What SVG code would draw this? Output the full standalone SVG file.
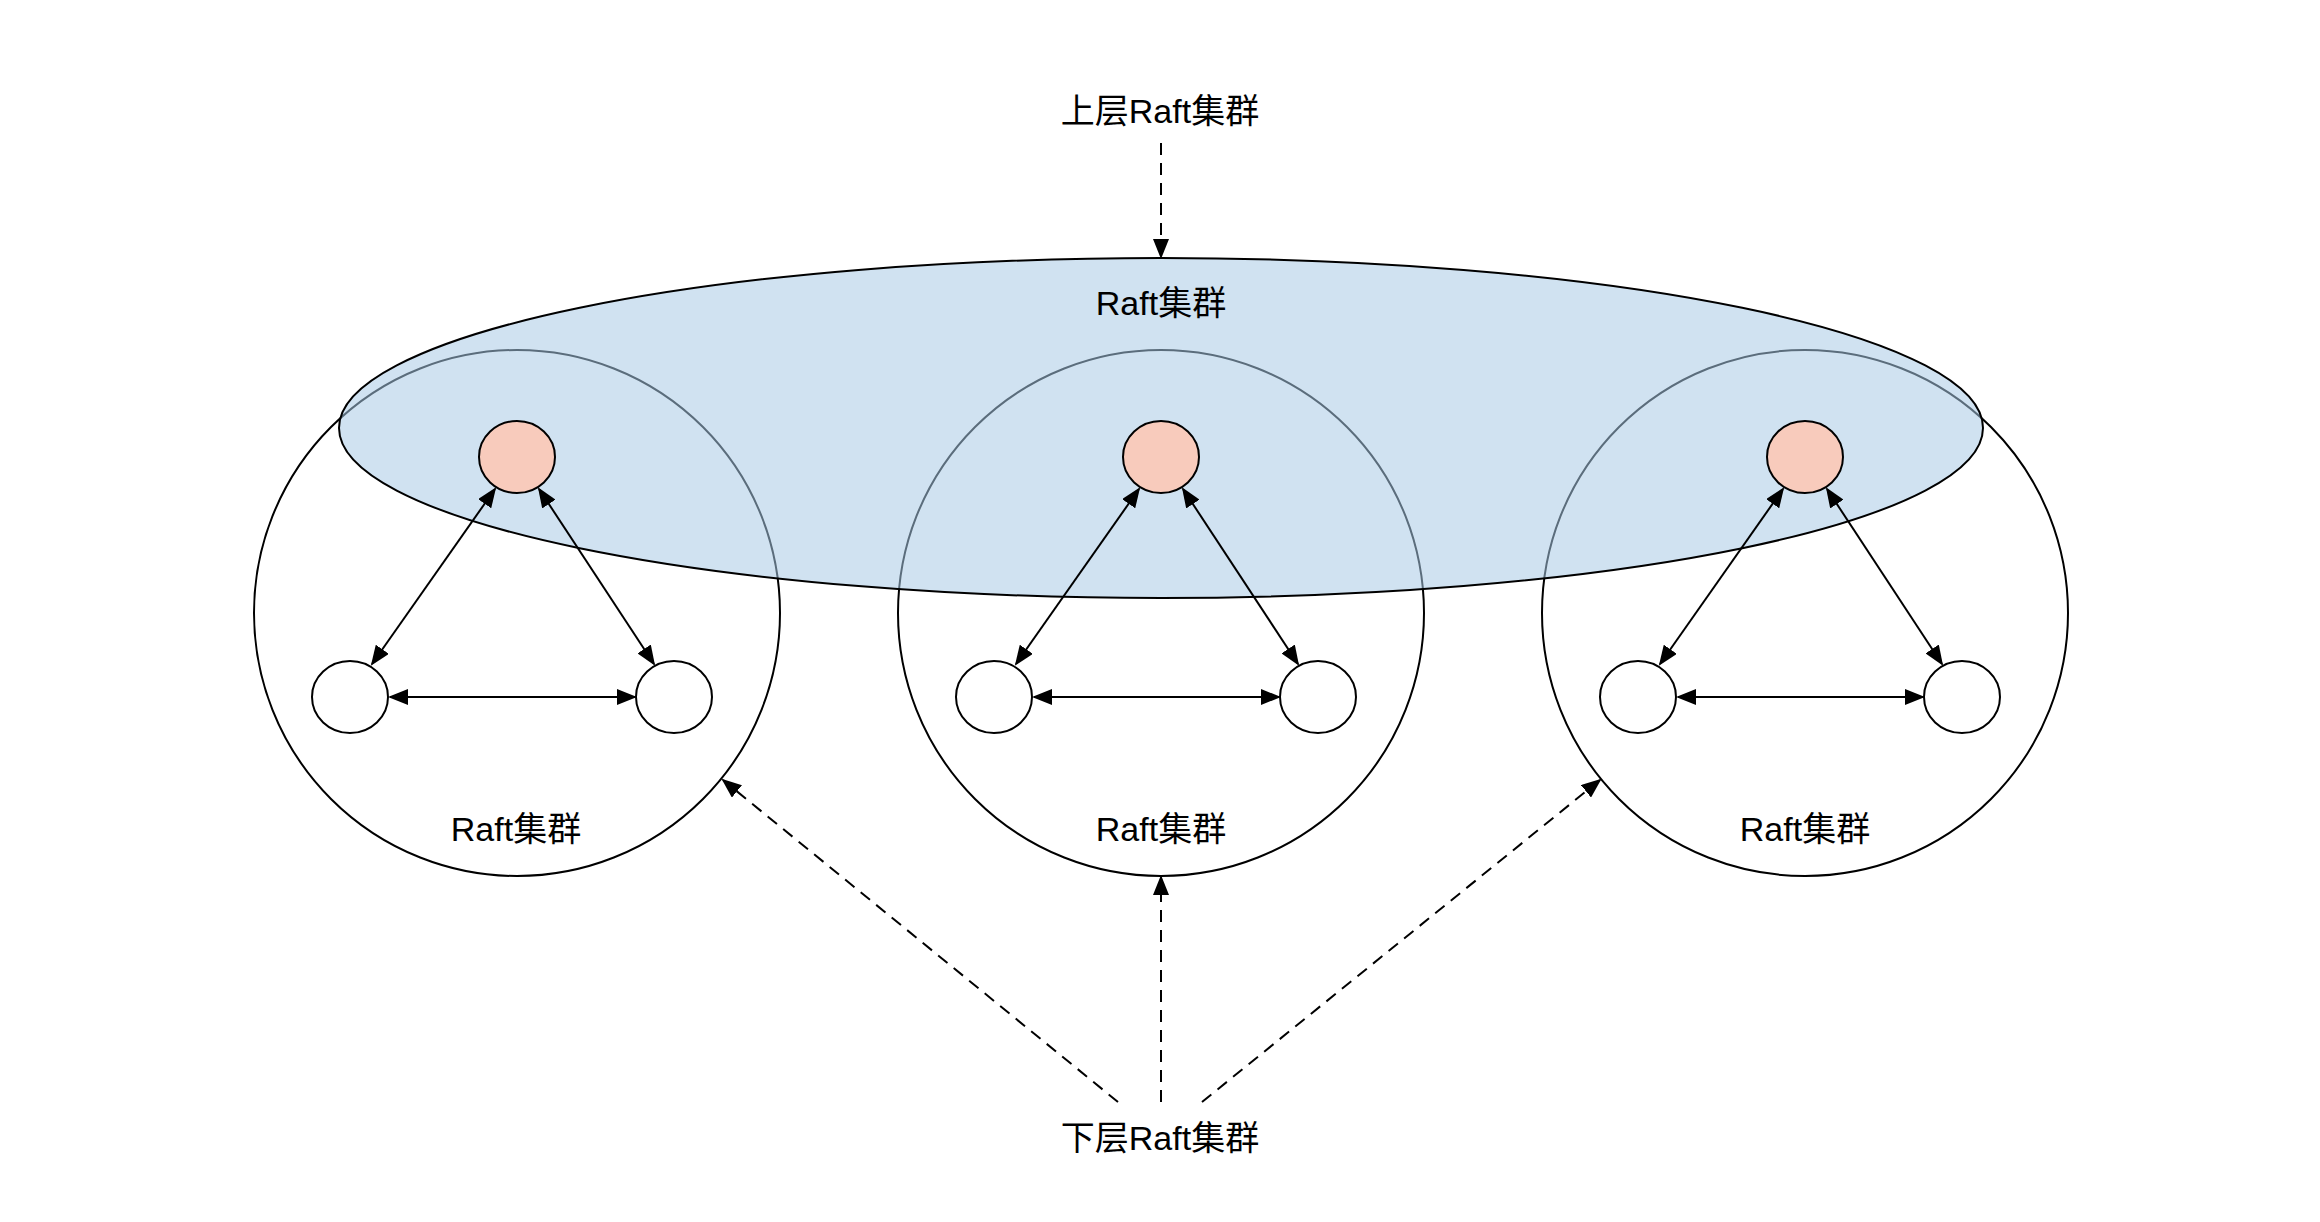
<svg xmlns="http://www.w3.org/2000/svg" width="2320" height="1222" viewBox="0 0 2320 1222">
<style>
.big{fill:#ffffff;stroke:#000;stroke-width:2}
.sm{fill:#ffffff;stroke:#000;stroke-width:2}
.ld{fill:#f8cbbc;stroke:#000;stroke-width:2}
.top{fill:rgb(168,201,229);fill-opacity:0.54;stroke:#000;stroke-width:2}
.lbl{font-family:"Liberation Sans","Noto Sans CJK SC",sans-serif;font-size:34px;fill:#000;text-anchor:middle}
.ar{stroke:#000;stroke-width:2;fill:none;marker-end:url(#head)}
.bi{stroke:#000;stroke-width:2;fill:none;marker-start:url(#head);marker-end:url(#head)}
.da{stroke:#000;stroke-width:2;fill:none;stroke-dasharray:12 8;marker-end:url(#head)}
</style>
<defs>
<marker id="head" markerUnits="userSpaceOnUse" markerWidth="20" markerHeight="16" refX="18" refY="8" orient="auto-start-reverse">
<path d="M0,0 L20,8 L0,16 z" fill="#000"/>
</marker>
</defs>
<rect width="2320" height="1222" fill="#ffffff"/>
<g id="cluster-left"><circle class="big" cx="517" cy="613" r="263"/></g>
<g id="cluster-middle"><circle class="big" cx="1161" cy="613" r="263"/></g>
<g id="cluster-right"><circle class="big" cx="1805" cy="613" r="263"/></g>
<g id="upper-cluster">
<ellipse class="top" cx="1161" cy="428" rx="822" ry="170"/>
<text class="lbl" x="1161" y="315">Raft集群</text>
</g>
<g id="cluster-left-label"><text class="lbl" x="516" y="841">Raft集群</text></g>
<g id="cluster-middle-label"><text class="lbl" x="1161" y="841">Raft集群</text></g>
<g id="cluster-right-label"><text class="lbl" x="1805" y="841">Raft集群</text></g>
<g id="connectors">
<line class="bi" x1="495" y1="489" x2="372" y2="664"/>
<line class="bi" x1="539" y1="489" x2="654" y2="664"/>
<line class="bi" x1="390" y1="697" x2="635" y2="697"/>
<line class="bi" x1="1139" y1="489" x2="1016" y2="664"/>
<line class="bi" x1="1183" y1="489" x2="1298" y2="664"/>
<line class="bi" x1="1034" y1="697" x2="1279" y2="697"/>
<line class="bi" x1="1783" y1="489" x2="1660" y2="664"/>
<line class="bi" x1="1827" y1="489" x2="1942" y2="664"/>
<line class="bi" x1="1678" y1="697" x2="1923" y2="697"/>
<line class="da" x1="1161" y1="143" x2="1161" y2="257"/>
<line class="da" x1="1161" y1="1102" x2="1161" y2="877"/>
<line class="da" x1="1118" y1="1102" x2="723" y2="780"/>
<line class="da" x1="1202" y1="1102" x2="1600" y2="780"/>
</g>
<g id="left-leader"><ellipse class="ld" cx="517" cy="457" rx="38" ry="36"/></g>
<g id="left-f1"><ellipse class="sm" cx="350" cy="697" rx="38" ry="36"/></g>
<g id="left-f2"><ellipse class="sm" cx="674" cy="697" rx="38" ry="36"/></g>
<g id="mid-leader"><ellipse class="ld" cx="1161" cy="457" rx="38" ry="36"/></g>
<g id="mid-f1"><ellipse class="sm" cx="994" cy="697" rx="38" ry="36"/></g>
<g id="mid-f2"><ellipse class="sm" cx="1318" cy="697" rx="38" ry="36"/></g>
<g id="right-leader"><ellipse class="ld" cx="1805" cy="457" rx="38" ry="36"/></g>
<g id="right-f1"><ellipse class="sm" cx="1638" cy="697" rx="38" ry="36"/></g>
<g id="right-f2"><ellipse class="sm" cx="1962" cy="697" rx="38" ry="36"/></g>
<g id="upper-label"><text class="lbl" x="1160" y="123">上层Raft集群</text></g>
<g id="lower-label"><text class="lbl" x="1160" y="1150">下层Raft集群</text></g>
</svg>
